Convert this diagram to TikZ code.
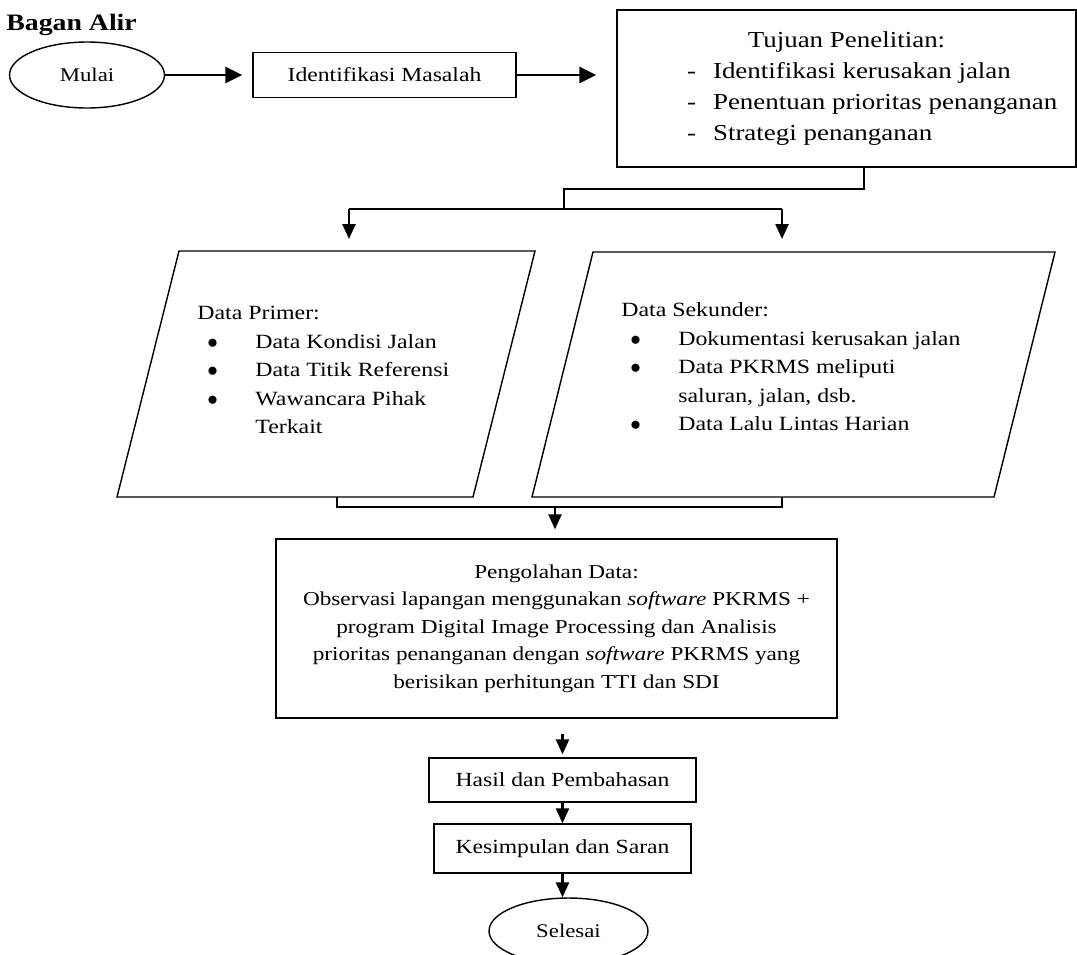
\documentclass[tikz,border=0pt]{standalone}
\usepackage{fontspec}
\setmainfont{Liberation Serif}[FakeStretch=1.18]
\usepackage{tikz}
\usetikzlibrary{shapes.geometric, arrows.meta}

\begin{document}
\begin{tikzpicture}[
  x=0.02cm, y=-0.02cm,
  box/.style={draw, line width=0.8pt, inner sep=0pt, align=center, font=\fontsize{11.4}{14}\selectfont},
  term/.style={draw, ellipse, line width=0.8pt, minimum width=3.1cm, minimum height=1.32cm, inner sep=0pt, font=\fontsize{11}{14}\selectfont},
  txt/.style={inner sep=0pt, align=left, anchor=west, font=\fontsize{11.5}{16.2}\selectfont},
  arrow/.style={-{Triangle[length=0.3cm, width=0.26cm]}, line width=1.4pt},
  bigarrow/.style={-{Triangle[length=0.34cm, width=0.32cm]}, line width=1.5pt},
  link/.style={line width=0.6pt}
]
\useasboundingbox (0,0) rectangle (1077,954);

\node[anchor=base west, inner sep=0pt, font=\fontsize{13.4}{14}\bfseries\selectfont] (title) at (6,30) {Bagan Alir};

% baris atas
\node[term] (mulai) at (87,75) {Mulai};
\node[box, minimum width=5.26cm, minimum height=0.9cm] (idm) at (384.5,75) {Identifikasi Masalah};
\node[box, minimum width=9.18cm, minimum height=3.14cm, font=\fontsize{13}{17.8}\selectfont] (tujuan) at (846.5,88.5)
  {Tujuan Penelitian:\\
   \makebox[6.38cm][l]{\makebox[0.52cm][l]{-}Identifikasi kerusakan jalan}\\
   \makebox[6.38cm][l]{\makebox[0.52cm][l]{-}Penentuan prioritas penanganan}\\
   \makebox[6.38cm][l]{\makebox[0.52cm][l]{-}Strategi penanganan}};

\draw[bigarrow, shorten >=0.2cm] (mulai) -- (idm);
\draw[bigarrow, shorten >=0.4cm] (idm.east) -- (idm.east -| tujuan.west);

% data primer dan sekunder
\draw[line width=0.8pt] (179,251) coordinate (primtl) -- (535,251) -- (473,497) -- (117,497) -- cycle;
\draw[line width=0.8pt] (593,252) coordinate (sektl) -- (1055,252) -- (994,497) -- (532,497) -- cycle;

\node[txt] (prim) at (197,370)
  {Data Primer:\\
   \hspace*{0.2cm}\makebox[0.96cm][l]{$\bullet$}Data Kondisi Jalan\\
   \hspace*{0.2cm}\makebox[0.96cm][l]{$\bullet$}Data Titik Referensi\\
   \hspace*{0.2cm}\makebox[0.96cm][l]{$\bullet$}Wawancara Pihak\\
   \hspace*{1.16cm}Terkait};
\node[txt] (sek) at (621,367)
  {Data Sekunder:\\
   \hspace*{0.18cm}\makebox[0.96cm][l]{$\bullet$}Dokumentasi kerusakan jalan\\
   \hspace*{0.18cm}\makebox[0.96cm][l]{$\bullet$}Data PKRMS meliputi\\
   \hspace*{1.14cm}saluran, jalan, dsb.\\
   \hspace*{0.18cm}\makebox[0.96cm][l]{$\bullet$}Data Lalu Lintas Harian};

\coordinate (j1) at (864,189);
\coordinate (j2) at (564,209);
\coordinate (primin) at (349,239);
\coordinate (sekin) at (782,239);
\draw[link] (tujuan.south -| j1) -- (j1) -| (j2);
\draw[link] (primin |- j2) -- (sekin |- j2);
\draw[arrow] (primin |- j2) -- (primin);
\draw[arrow] (sekin |- j2) -- (sekin);

% pengolahan dan hasil
\node[box, minimum width=11.22cm, minimum height=3.58cm, font=\fontsize{11.2}{15.6}\selectfont] (olah) at (556.5,628.5)
  {Pengolahan Data:\\
   Observasi lapangan menggunakan \textit{software} PKRMS +\\
   program Digital Image Processing dan Analisis\\
   prioritas penanganan dengan \textit{software} PKRMS yang\\
   berisikan perhitungan TTI dan SDI};

\coordinate (primout) at (337,497);
\coordinate (sekout) at (782,497);
\coordinate (j3) at (555,507);
\draw[link] (primout) |- (j3) -| (sekout);
\draw[arrow, shorten >=0.18cm] (j3) -- (j3 |- olah.north);

\node[box, minimum width=5.34cm, minimum height=0.88cm] (hasil) at (562.5,780) {Hasil dan Pembahasan};
\node[box, minimum width=5.14cm, minimum height=0.98cm] (kes) at (562.5,848.5) {Kesimpulan dan Saran};
\node[term, minimum width=3.18cm] (selesai) at (568.5,931) {Selesai};

\draw[arrow, shorten <=0.3cm, shorten >=0.06cm] (olah.south -| hasil.north) -- (hasil.north);
\draw[arrow] (hasil) -- (kes);
\draw[arrow] (kes.south) -- (kes.south |- selesai.north);
\end{tikzpicture}
\end{document}
